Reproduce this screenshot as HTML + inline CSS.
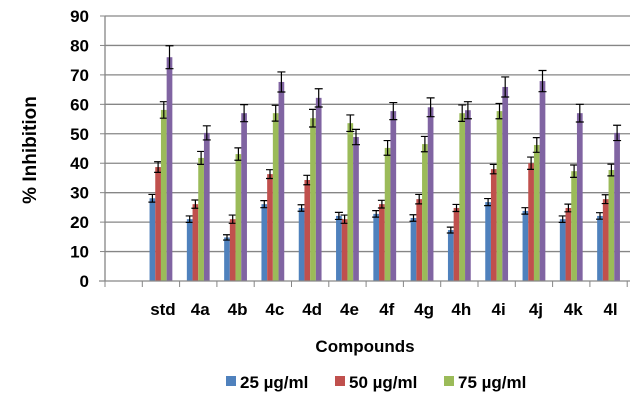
<!DOCTYPE html>
<html><head><meta charset="utf-8"><style>
body{margin:0;background:#fff;}
svg{font-family:"Liberation Sans",Arial,sans-serif;font-weight:bold;}
</style></head><body>
<svg width="639" height="400" viewBox="0 0 639 400">
<g id="grid"></g>
<g id="bars"></g>
<g id="axes"></g>
<text x="36" y="150" font-size="19" text-anchor="middle" transform="rotate(-90 36 150)">% Inhibition</text>
<text x="365" y="352" font-size="17" text-anchor="middle">Compounds</text>
<g id="legend"></g>
</svg>
<script>
const categories=["std","4a","4b","4c","4d","4e","4f","4g","4h","4i","4j","4k","4l"];
const seriesNames=["25 µg/ml","50 µg/ml","75 µg/ml","100 µg/ml"];
const s25=[28.1,21,14.8,26.1,24.8,22.1,22.8,21.4,17.3,26.8,23.8,21,22.1];
const s50=[38.7,26.1,21,36.3,34.3,21,26.1,27.8,24.8,38,40,24.8,27.8];
const s75=[58.1,41.8,43.1,57,55.3,53.6,45.2,46.5,57,57.7,46.2,37.3,37.7];
const s100=[76,50.3,57,67.6,62.2,48.9,57.7,59,58,65.9,67.9,57,50.3];
const e25=[1.3,1.1,0.9,1.2,1.1,1.2,1.1,1.1,1,1.2,1.1,1.1,1.1];
const e50=[1.8,1.4,1.4,1.5,1.6,1.4,1.3,1.6,1.2,1.6,2.1,1.3,1.5];
const e75=[2.8,2.2,2.1,2.7,3,2.8,2.5,2.6,2.8,2.6,2.5,2.1,2.0];
const e100=[3.9,2.4,2.9,3.4,3.1,2.6,2.9,3.2,2.9,3.4,3.6,3.0,2.6];
const yTicks=[0,10,20,30,40,50,60,70,80,90];
const series=[s25,s50,s75,s100], errs=[e25,e50,e75,e100];
const colors=["#4f81bd","#c0504d","#9bbb59","#8064a2"];
const NS="http://www.w3.org/2000/svg";
const x0=105,x1=630,y0=281,yTop=16,catStart=142.3,catW=37.3,barW=5.7;
const y=v=>y0-(v/90)*(y0-yTop);
const xc=i=>catStart+catW*(i+0.5);
function mk(tag,attrs,parent){const e=document.createElementNS(NS,tag);for(const k in attrs)e.setAttribute(k,attrs[k]);parent.appendChild(e);return e;}
const grid=document.getElementById('grid'),bars=document.getElementById('bars'),axes=document.getElementById('axes'),legend=document.getElementById('legend');
yTicks.forEach(t=>{
  if(t>0){const l=mk('line',{x1:x0,x2:x1,y1:y(t),y2:y(t),stroke:'#868686','stroke-width':1.3},grid);
  
  }
  const tk=mk('line',{x1:x0-5,x2:x0,y1:y(t),y2:y(t),stroke:'#868686'},axes);
  
  
  const tx=mk('text',{x:89,y:y(t)+6,'font-size':17,'text-anchor':'end'},axes);
  tx.textContent=t;
  
  
});
const ya=mk('line',{x1:x0,x2:x0,y1:yTop,y2:y0,stroke:'#868686','stroke-width':1.3},axes);


const xa=mk('line',{x1:x0-6,x2:x1,y1:y0,y2:y0,stroke:'#868686','stroke-width':1.3},axes);


for(let i=-1;i<=categories.length;i++){
  const tk=mk('line',{x1:catStart+catW*i,x2:catStart+catW*i,y1:y0,y2:y0+6,stroke:'#868686'},axes);
  
  
}
categories.forEach((c,i)=>{
  const tx=mk('text',{x:xc(i)+2,y:315,'font-size':17,'text-anchor':'middle'},axes);
  tx.textContent=c;
  
  
  series.forEach((s,k)=>{
    const bx=xc(i)-2*barW+k*barW;
    const r=mk('rect',{x:bx,y:y(s[i]),width:barW,height:y0-y(s[i]),fill:colors[k]},bars);
    
    
    const cx=bx+barW/2,hi=y(s[i]+errs[k][i]),lo=y(s[i]-errs[k][i]);
    const g=mk('path',{d:`M${cx} ${hi}V${lo}M${cx-4} ${hi}H${cx+4}M${cx-4} ${lo}H${cx+4}`,stroke:'#000','stroke-width':1.2,fill:'none'},bars);
    
    
  });
});
const lx=[226,335,444];
lx.forEach((x,k)=>{
  const r=mk('rect',{x:x,y:376,width:10,height:10,fill:colors[k]},legend);
  
  
  const t=mk('text',{x:x+14,y:388,'font-size':17},legend);
  t.textContent=seriesNames[k];
  
  
});
</script>
</body></html>
